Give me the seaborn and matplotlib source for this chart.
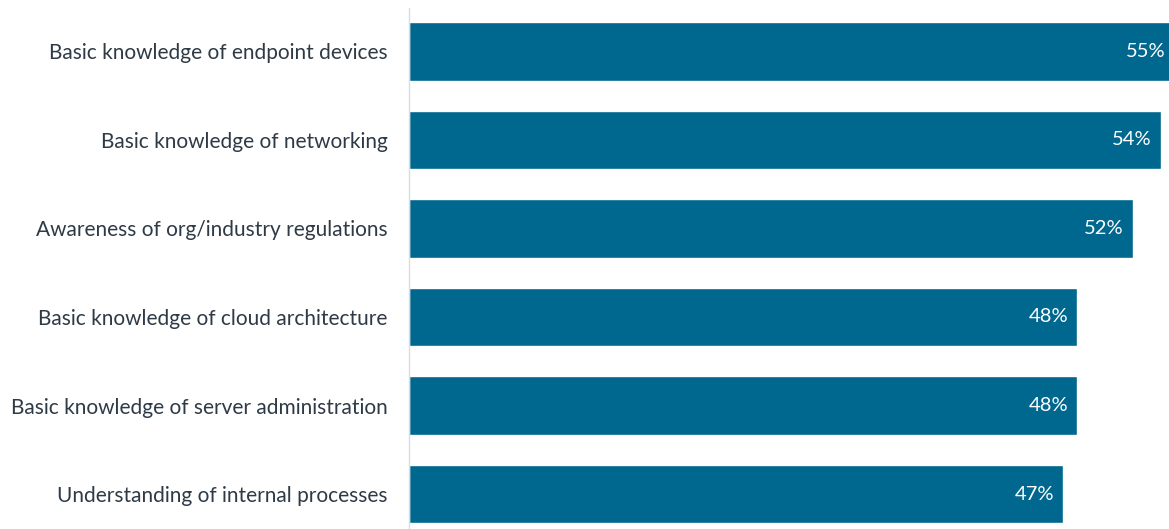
import matplotlib
matplotlib.use("Agg")
import matplotlib.pyplot as plt
import seaborn as sns
import pandas as pd

categories = [
    "Basic knowledge of endpoint devices",
    "Basic knowledge of networking",
    "Awareness of org/industry regulations",
    "Basic knowledge of cloud architecture",
    "Basic knowledge of server administration",
    "Understanding of internal processes",
]
values = [55, 54, 52, 48, 48, 47]
value_labels = ["55%", "54%", "52%", "48%", "48%", "47%"]

BAR_COLOR = "#00688E"
TEXT_COLOR = "#2E3A46"

sns.set_theme(style="white")
plt.rcParams["font.family"] = ["Lato", "DejaVu Sans"]

df = pd.DataFrame({"skill": categories, "share": values})

fig = plt.figure(figsize=(11.69, 5.29), dpi=100)
ax = fig.add_axes([409 / 1169, 0, 1 - 409 / 1169, 1 - 8 / 529])

sns.barplot(data=df, x="share", y="skill", orient="h", color=BAR_COLOR,
            saturation=1, width=0.66, ax=ax)

ax.set_xlim(0, 54.6)
ax.set_ylim(5.395, -0.49)

# value labels sit just inside the end of each bar
for i, (v, lab) in enumerate(zip(values, value_labels)):
    ax.annotate(lab, xy=(v, i), xytext=(-6.5, 0),
                textcoords="offset points", ha="right", va="center",
                color="white", fontsize=14.5, annotation_clip=False)

ax.set_xlabel("")
ax.set_ylabel("")
ax.set_xticks([])
ax.tick_params(axis="y", length=0, pad=15.5, labelsize=15, labelcolor=TEXT_COLOR)
for side in ("top", "right", "bottom"):
    ax.spines[side].set_visible(False)
ax.spines["left"].set_color("#D5DEE8")
ax.spines["left"].set_linewidth(1)

fig.savefig("out.png", dpi=100)
